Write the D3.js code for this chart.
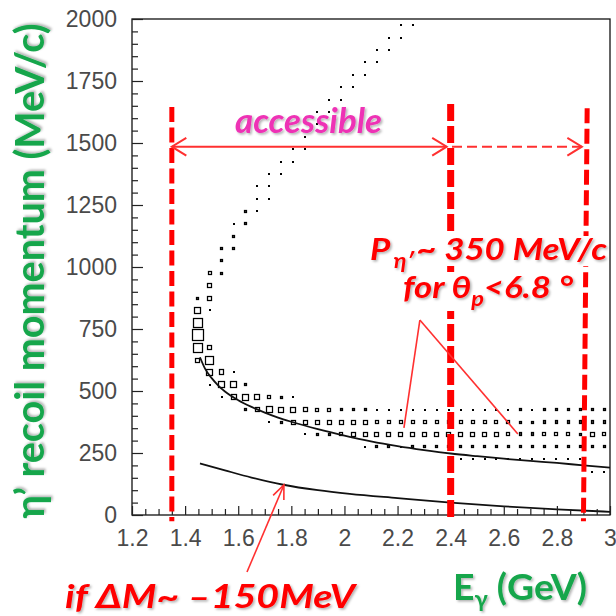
<!DOCTYPE html>
<html>
<head>
<meta charset="utf-8">
<script src="https://cdn.jsdelivr.net/npm/d3@7"></script>
<style>
  body { margin: 0; background: #fff; }
  svg { display: block; }
</style>
</head>
<body>
<svg id="chart" width="616" height="616"></svg>
<script>
// ---- axes ----
const energyDomain = [1.2, 3.0];          // E_gamma (GeV)
const momentumDomain = [0, 2000];         // eta' recoil momentum (MeV/c)
const energyMajorTicks = [1.2, 1.4, 1.6, 1.8, 2.0, 2.2, 2.4, 2.6, 2.8, 3.0];
const energyTickLabels = ["1.2", "1.4", "1.6", "1.8", "2", "2.2", "2.4", "2.6", "2.8", "3"];
const momentumMajorTicks = [0, 250, 500, 750, 1000, 1250, 1500, 1750, 2000];
const energyBinWidth = 0.045;             // 40 bins over 1.2 - 3.0 GeV
const momentumBinWidth = 50;              // 40 bins over 0 - 2000 MeV/c

// ---- 2D histogram cells: [E bin centre, p bin centre, content] ----
const upperBranch = [
  [2.2125,1975,8],[2.2575,1975,8],
  [2.1675,1925,12],[2.2125,1925,12],
  [2.1225,1875,8],[2.1675,1875,8],
  [2.0775,1825,8],[2.1225,1825,12],
  [2.0325,1775,12],[2.0775,1775,12],
  [1.9875,1725,12],[2.0325,1725,12],
  [1.9425,1675,8],[1.9875,1675,12],
  [1.8975,1625,8],[1.9425,1625,12],
  [1.8975,1575,12],
  [1.8525,1525,16],
  [1.8075,1475,12],[1.8525,1475,12],
  [1.7625,1425,12],[1.8075,1425,12],
  [1.7175,1375,12],[1.7625,1375,12],
  [1.6725,1325,8],[1.7175,1325,17],
  [1.6725,1275,17],[1.7175,1275,8],
  [1.6275,1225,21],[1.6725,1225,10],
  [1.5825,1175,8],[1.6275,1175,21],
  [1.5825,1125,25],
  [1.5375,1075,25],[1.5825,1075,21],
  [1.5375,1025,25],
  [1.4925,975,33],[1.5375,975,21],
  [1.4925,925,42],
  [1.4475,875,25],[1.4925,875,42]
];
const turningRegion = [
  [1.4475,825,58],[1.4925,825,17],
  [1.4475,775,83],
  [1.4475,725,100],
  [1.4475,675,83],[1.4925,675,42],
  [1.4475,625,42],[1.4925,625,75],
  [1.4925,575,58],[1.5375,575,46],[1.5825,575,8],
  [1.4925,525,17],[1.5375,525,58],[1.5825,525,58],[1.6275,525,25],
  [1.5375,475,12],[1.5825,475,50],[1.6275,475,58],[1.6725,475,50],[1.7175,475,33],[1.7625,475,21],[1.8075,475,8]
];
const band425 = [
  [1.6275,425,21],[1.6725,425,42],[1.7175,425,58],[1.7625,425,50],[1.8075,425,50],[1.8525,425,42],
  [1.8975,425,33],[1.9425,425,33],[1.9875,425,25],[2.0325,425,21],[2.0775,425,21],[2.1225,425,17],
  [2.1675,425,12],[2.2125,425,12],[2.2575,425,8],[2.3025,425,8],[2.3475,425,8],[2.3925,425,12],
  [2.4375,425,17],[2.4825,425,17],[2.5275,425,17],[2.5725,425,17],[2.6175,425,17],[2.6625,425,25],
  [2.7075,425,12],[2.7525,425,25],[2.7975,425,25],[2.8425,425,25],[2.8875,425,25],[2.9325,425,25],[2.9775,425,25]
];
const band375 = [
  [1.7175,375,17],[1.7625,375,25],[1.8075,375,38],[1.8525,375,42],[1.8975,375,42],[1.9425,375,42],
  [1.9875,375,42],[2.0325,375,38],[2.0775,375,38],[2.1225,375,33],[2.1675,375,33],[2.2125,375,33],
  [2.2575,375,33],[2.3025,375,33],[2.3475,375,33],[2.3925,375,33],[2.4375,375,33],[2.4825,375,33],
  [2.5275,375,33],[2.5725,375,33],[2.6175,375,33],[2.6625,375,25],[2.7075,375,25],[2.7525,375,29],
  [2.7975,375,29],[2.8425,375,29],[2.8875,375,29],[2.9325,375,29],[2.9775,375,29]
];
const band325 = [
  [1.8525,325,17],[1.8975,325,25],[1.9425,325,25],[1.9875,325,33],[2.0325,325,38],[2.0775,325,38],
  [2.1225,325,38],[2.1675,325,38],[2.2125,325,38],[2.2575,325,38],[2.3025,325,38],[2.3475,325,38],
  [2.3925,325,38],[2.4375,325,38],[2.4825,325,38],[2.5275,325,38],[2.5725,325,38],[2.6175,325,33],
  [2.6625,325,29],[2.7075,325,29],[2.7525,325,33],[2.7975,325,33],[2.8425,325,33],[2.8875,325,25],
  [2.9325,325,42],[2.9775,325,33]
];
const band275 = [
  [2.0775,275,17],[2.1225,275,25],[2.1675,275,25],[2.2125,275,17],[2.2575,275,25],[2.3025,275,25],
  [2.3475,275,25],[2.3925,275,25],[2.4375,275,25],[2.4825,275,25],[2.5275,275,25],[2.5725,275,25],
  [2.6175,275,25],[2.6625,275,25],[2.7075,275,25],[2.7525,275,25],[2.7975,275,25],[2.8425,275,25],
  [2.8875,275,25],[2.9325,275,25],[2.9775,275,25]
];
const band225 = [
  [2.4375,225,17],[2.4825,225,17],[2.5275,225,17],[2.5725,225,17],[2.6175,225,17],[2.6625,225,17],
  [2.7075,225,17],[2.7525,225,17],[2.7975,225,17],[2.8425,225,17],[2.8875,225,17]
];
const band175 = [[2.9325,175,12],[2.9775,175,12]];

// ---- kinematic curves: [E (GeV), p (MeV/c)] ----
const thetaLimitCurve = [
  [1.456,636],[1.475,590],[1.5,552],[1.525,522],[1.55,498],[1.6,463],[1.65,436],[1.7,413],
  [1.75,393],[1.8,376],[1.9,346],[2.0,320],[2.1,297],[2.2,278],[2.3,262],[2.4,248],
  [2.5,237],[2.6,227],[2.7,218],[2.8,210],[2.9,200],[3.0,191]
];
const deltaMCurve = [
  [1.456,208],[1.55,180],[1.65,151],[1.77,122],[1.9,100],[2.02,85],[2.2,68],
  [2.4,50],[2.6,35],[2.8,23],[3.0,13]
];

// ---- annotations (data units) ----
const limitEnergiesTop = [1.35, 2.4, 2.914];
const limitEnergiesBottom = [1.35, 2.4, 2.9];
const limitMomentumTop = [1645, 1657, 1640];
const limitMomentumBottom = -25;
const accessibleRange = [1.35, 2.385];
const extendedRange = [2.405, 2.894];
const rangeArrowMomentum = 1485;
const calloutApex = [2.284, 786];
const calloutTargets = [[2.224, 351], [2.653, 327]];
const deltaMArrow = [[1.633, -230], [1.772, 121]];

// ---- drawing ----
const svg = d3.select("#chart");
const x = d3.scaleLinear().domain(energyDomain).range([132, 610]);
const y = d3.scaleLinear().domain(momentumDomain).range([515, 19]);

const defs = svg.append("defs");
const shadow = defs.append("filter").attr("id", "shadow")
  .attr("x", "-10%").attr("y", "-30%").attr("width", "130%").attr("height", "170%");
shadow.append("feDropShadow").attr("dx", 1.6).attr("dy", 1.6).attr("stdDeviation", 1)
  .attr("flood-color", "#000").attr("flood-opacity", 0.3);

svg.append("rect").attr("width", 616).attr("height", 616).attr("fill", "#fff");

// histogram boxes (side proportional to bin content), snapped to the pixel grid
const cells = [].concat(upperBranch, turningRegion, band425, band375, band325, band275, band225, band175);
const nMax = d3.max(cells, d => d[2]);
const bw = x(energyDomain[0] + energyBinWidth) - x(energyDomain[0]);
const bh = y(0) - y(momentumBinWidth);
const boxes = cells.map(d => {
  const w = Math.max(2, Math.round(bw * d[2] / nMax));
  const h = Math.max(2, Math.round(bh * d[2] / nMax));
  return { x0: Math.round(x(d[0]) - w / 2), y0: Math.round(y(d[1]) - h / 2), w, h };
});
svg.append("g").selectAll("rect").data(boxes).join("rect")
  .attr("x", b => b.w < 3 ? b.x0 : b.x0 + 0.5)
  .attr("y", b => b.h < 3 ? b.y0 : b.y0 + 0.5)
  .attr("width", b => b.w < 3 ? b.w : b.w - 1)
  .attr("height", b => b.h < 3 ? b.h : b.h - 1)
  .attr("fill", b => b.w < 3 ? "#000" : "none")
  .attr("stroke", b => b.w < 3 ? "none" : "#000")
  .attr("stroke-width", 1.25);

// curves
const line = d3.line().x(d => x(d[0])).y(d => y(d[1])).curve(d3.curveMonotoneX);
svg.append("path").attr("d", line(thetaLimitCurve)).attr("fill", "none")
  .attr("stroke", "#111").attr("stroke-width", 1.8);
svg.append("path").attr("d", line(deltaMCurve)).attr("fill", "none")
  .attr("stroke", "#111").attr("stroke-width", 1.8);

// frame
svg.append("rect").attr("x", x.range()[0]).attr("y", y.range()[1])
  .attr("width", x.range()[1] - x.range()[0]).attr("height", y.range()[0] - y.range()[1])
  .attr("fill", "none").attr("stroke", "#111").attr("stroke-width", 1.3);

// y axis
const yMinor = d3.range(0, 2001, 50).filter(v => v % 250 !== 0);
const yMinorAxis = svg.append("g").attr("transform", `translate(${x.range()[0]},0)`)
  .call(d3.axisLeft(y).tickValues(yMinor).tickSize(-6).tickFormat(""));
const yAxis = svg.append("g").attr("transform", `translate(${x.range()[0]},0)`)
  .call(d3.axisLeft(y).tickValues(momentumMajorTicks).tickSize(-11).tickPadding(15).tickFormat(d3.format("d")));
// x axis
const xMinor = d3.range(1.2, 3.0001, 0.05).filter(v => Math.abs(v * 5 - Math.round(v * 5)) > 1e-6);
const xMinorAxis = svg.append("g").attr("transform", `translate(0,${y.range()[0]})`)
  .call(d3.axisBottom(x).tickValues(xMinor).tickSize(-6).tickFormat(""));
const xAxis = svg.append("g").attr("transform", `translate(0,${y.range()[0]})`)
  .call(d3.axisBottom(x).tickValues(energyMajorTicks).tickSize(-9).tickPadding(15)
    .tickFormat((d, i) => energyTickLabels[i]));
[yMinorAxis, yAxis, xMinorAxis, xAxis].forEach(g => {
  g.select(".domain").remove();
  g.selectAll("line").attr("stroke", "#222").attr("stroke-width", 1.2);
  g.selectAll("text").attr("fill", "#4a4a4a").attr("font-family", "Liberation Sans, Arial, sans-serif")
    .attr("font-size", 23);
});

// limit lines
const limitWidths = [5, 7, 5];
const limitDash = ["15 5.5", "17 5", "15 5.5"];
limitEnergiesTop.forEach((e, i) => {
  svg.append("line")
    .attr("x1", x(e)).attr("y1", y(limitMomentumTop[i]))
    .attr("x2", x(limitEnergiesBottom[i])).attr("y2", y(limitMomentumBottom))
    .attr("stroke", "#ff0000").attr("stroke-width", limitWidths[i])
    .attr("stroke-dasharray", limitDash[i]);
});

// arrows
function arrowHead(x1, y1, x2, y2, len, spread, color, width) {
  const a = Math.atan2(y2 - y1, x2 - x1);
  const pts = [
    [x2 - len * Math.cos(a - spread), y2 - len * Math.sin(a - spread)],
    [x2, y2],
    [x2 - len * Math.cos(a + spread), y2 - len * Math.sin(a + spread)]
  ];
  svg.append("path").attr("d", d3.line()(pts)).attr("fill", "none")
    .attr("stroke", color).attr("stroke-width", width).attr("stroke-linejoin", "miter");
}
const arrowRed = "#ff3030";
const ya = y(rangeArrowMomentum);
svg.append("line").attr("x1", x(accessibleRange[0])).attr("x2", x(accessibleRange[1]))
  .attr("y1", ya).attr("y2", ya).attr("stroke", arrowRed).attr("stroke-width", 2);
arrowHead(x(accessibleRange[1]), ya, x(accessibleRange[0]), ya, 17, 0.55, arrowRed, 2);
arrowHead(x(accessibleRange[0]), ya, x(accessibleRange[1]), ya, 17, 0.55, arrowRed, 2);
svg.append("line").attr("x1", x(extendedRange[0])).attr("x2", x(extendedRange[1]))
  .attr("y1", ya).attr("y2", ya).attr("stroke", arrowRed).attr("stroke-width", 2)
  .attr("stroke-dasharray", "10 5");
arrowHead(x(extendedRange[0]), ya, x(extendedRange[1]), ya, 17, 0.55, arrowRed, 2);

// callout lines
calloutTargets.forEach(t => {
  svg.append("line").attr("x1", x(calloutApex[0])).attr("y1", y(calloutApex[1]))
    .attr("x2", x(t[0])).attr("y2", y(t[1])).attr("stroke", arrowRed).attr("stroke-width", 1.6);
});
const [t0, t1] = deltaMArrow;
svg.append("line").attr("x1", x(t0[0])).attr("y1", y(t0[1])).attr("x2", x(t1[0])).attr("y2", y(t1[1]))
  .attr("stroke", arrowRed).attr("stroke-width", 1.6);
arrowHead(x(t0[0]), y(t0[1]), x(t1[0]), y(t1[1]), 15, 0.4, arrowRed, 1.6);

// text
const green = "#14a64c";
const red = "#ff0000";
const font = "Lato, 'Open Sans', sans-serif";

// y title
svg.append("text")
  .attr("transform", "translate(44,271) rotate(-90)")
  .attr("text-anchor", "middle").attr("font-family", font).attr("font-weight", 700)
  .attr("font-size", 40).attr("fill", green).attr("filter", "url(#shadow)")
  .attr("textLength", 495).attr("lengthAdjust", "spacingAndGlyphs")
  .text("η’ recoil momentum (MeV/c)");

// x title
const xt = svg.append("text").attr("x", 453).attr("y", 600)
  .attr("font-family", font).attr("font-weight", 700).attr("fill", green)
  .attr("filter", "url(#shadow)").attr("textLength", 134).attr("lengthAdjust", "spacingAndGlyphs");
xt.append("tspan").attr("font-size", 36).text("E");
xt.append("tspan").attr("font-size", 23).attr("dy", 7).text("γ");
xt.append("tspan").attr("font-size", 36).attr("dy", -7).text(" (GeV)");

// accessible label
svg.append("text").attr("x", 235).attr("y", 133)
  .attr("font-family", font).attr("font-weight", 700).attr("font-style", "italic")
  .attr("font-size", 34).attr("fill", "#ee33b5").attr("filter", "url(#shadow)")
  .attr("textLength", 147).attr("lengthAdjust", "spacingAndGlyphs")
  .text("accessible");

// momentum / angle label, each line on a white text box
svg.append("rect").attr("x", 366).attr("y", 236).attr("width", 241).attr("height", 30).attr("fill", "#fff");
svg.append("rect").attr("x", 400).attr("y", 272).attr("width", 180).attr("height", 39).attr("fill", "#fff");

const p1 = svg.append("text").attr("x", 370).attr("y", 260)
  .attr("font-family", font).attr("font-weight", 700).attr("font-style", "italic")
  .attr("fill", red).attr("filter", "url(#shadow)")
  .attr("textLength", 237).attr("lengthAdjust", "spacingAndGlyphs");
p1.append("tspan").attr("font-size", 31).text("P");
p1.append("tspan").attr("font-size", 21).attr("dx", 3).attr("dy", 8).text("η′");
p1.append("tspan").attr("font-size", 31).attr("dx", 2).attr("dy", -8).text("~ 350 MeV/c");

const p2 = svg.append("text").attr("x", 403).attr("y", 298)
  .attr("font-family", font).attr("font-weight", 700).attr("font-style", "italic")
  .attr("fill", red).attr("filter", "url(#shadow)")
  .attr("textLength", 170).attr("lengthAdjust", "spacingAndGlyphs");
p2.append("tspan").attr("font-size", 31).text("for θ");
p2.append("tspan").attr("font-size", 21).attr("dy", 8).text("p");
p2.append("tspan").attr("font-size", 31).attr("dy", -8).text("<6.8 °");

// mass shift label
svg.append("text").attr("x", 65).attr("y", 608)
  .attr("font-family", font).attr("font-weight", 700).attr("font-style", "italic")
  .attr("font-size", 32).attr("fill", red).attr("filter", "url(#shadow)")
  .attr("textLength", 290).attr("lengthAdjust", "spacingAndGlyphs")
  .text("if ΔM~ –150MeV");
</script>
</body>
</html>
